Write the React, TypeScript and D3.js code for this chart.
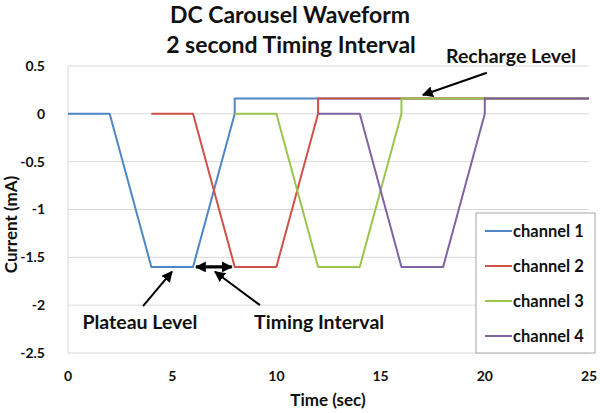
import { useEffect } from "react";
import * as d3 from "d3";

// waveform corner points (time in sec, current in mA)
const seriesNames = ["channel 1", "channel 2", "channel 3", "channel 4"];
const seriesColors = ["#4F86C6", "#D0504A", "#9BC44F", "#8064A2"];
const time1 = [0, 2, 4, 6, 8, 8, 25];
const time2 = [4, 6, 8, 10, 12, 12, 25];
const time3 = [8, 10, 12, 14, 16, 16, 25];
const time4 = [12, 14, 16, 18, 20, 20, 25];
const current1 = [0, 0, -1.6, -1.6, 0, 0.16, 0.16];
const current2 = [0, 0, -1.6, -1.6, 0, 0.16, 0.16];
const current3 = [0, 0, -1.6, -1.6, 0, 0.16, 0.16];
const current4 = [0, 0, -1.6, -1.6, 0, 0.16, 0.16];
const xTicks = [0, 5, 10, 15, 20, 25];
const yTicks = [0.5, 0, -0.5, -1, -1.5, -2, -2.5];

// annotations in data space
const labels = [
  { text: "Recharge Level", x: 21.26, y: 0.53 },
  { text: "Plateau Level", x: 3.45, y: -2.25 },
  { text: "Timing Interval", x: 12.05, y: -2.25 },
];
const pointers = [
  { x1: 20.1, y1: 0.43, x2: 17.03, y2: 0.197 },
  { x1: 3.6, y1: -2.01, x2: 4.99, y2: -1.65 },
  { x1: 9.21, y1: -2.0, x2: 7.05, y2: -1.65 },
];
const interval = { from: 6, to: 8, level: -1.6 };

const W = 600;
const H = 413;
const margin = { top: 66, right: 11, bottom: 60, left: 68 };
const font = "Lato, 'Open Sans', sans-serif";

export default function App() {
  useEffect(() => {
    document.body.style.margin = "0";
  }, []);

  const x = d3.scaleLinear().domain([0, 25]).range([margin.left, W - margin.right]);
  const y = d3.scaleLinear().domain([-2.5, 0.5]).range([H - margin.bottom, margin.top]);

  const series = [
    d3.zip(time1, current1),
    d3.zip(time2, current2),
    d3.zip(time3, current3),
    d3.zip(time4, current4),
  ];
  const line = d3
    .line<number[]>()
    .x((d) => x(d[0]))
    .y((d) => y(d[1]));

  const legendX = 476;
  const legendY = 213;

  return (
    <svg width={W} height={H} style={{ display: "block" }} fontFamily={font} fontWeight="bold">
      <defs>
        <marker id="head" viewBox="0 0 10 10" refX="9" refY="5" markerWidth="5.5" markerHeight="5.5" orient="auto-start-reverse" markerUnits="strokeWidth">
          <path d="M0,0 L10,5 L0,10 z" fill="#000" />
        </marker>
        <marker id="headBig" viewBox="0 0 10 10" refX="9" refY="5" markerWidth="3.4" markerHeight="3.4" orient="auto-start-reverse" markerUnits="strokeWidth">
          <path d="M0,0 L10,5 L0,10 z" fill="#000" />
        </marker>
      </defs>
      <rect width={W} height={H} fill="#fff" />

      {/* title */}
      <text x={W / 2 - 10} y={23} textAnchor="middle" fontSize={23} fill="#111">
        DC Carousel Waveform
      </text>
      <text x={W / 2 - 9} y={53} textAnchor="middle" fontSize={23} fill="#111">
        2 second Timing Interval
      </text>

      {/* grid */}
      {yTicks.map((t) => (
        <line key={t} x1={x(0)} x2={x(25)} y1={y(t)} y2={y(t)} stroke="#D9D9D9" strokeWidth={1} />
      ))}
      <line x1={x(0)} x2={x(0)} y1={y(0.5)} y2={y(-2.5)} stroke="#D9D9D9" strokeWidth={1} />

      {/* tick labels */}
      {yTicks.map((t) => (
        <text key={t} x={45} y={y(t)} dy="0.35em" textAnchor="end" fontSize={14} fill="#111">
          {t}
        </text>
      ))}
      {xTicks.map((t) => (
        <text key={t} x={x(t)} y={381} textAnchor="middle" fontSize={14} fill="#111">
          {t}
        </text>
      ))}

      {/* axis titles */}
      <text x={328} y={406} textAnchor="middle" fontSize={17} fill="#111">
        Time (sec)
      </text>
      <text transform={`translate(11,${(y(0.5) + y(-2.5)) / 2 + 15}) rotate(-90)`} textAnchor="middle" dy="0.35em" fontSize={17} fill="#111">
        Current (mA)
      </text>

      {/* waveforms */}
      {series.map((s, i) => (
        <path key={i} d={line(s) ?? ""} fill="none" stroke={seriesColors[i]} strokeWidth={2} strokeLinejoin="round" />
      ))}

      {/* timing interval double arrow */}
      <line
        x1={x(interval.from) + 3}
        x2={x(interval.to) - 3}
        y1={y(interval.level)}
        y2={y(interval.level)}
        stroke="#000"
        strokeWidth={3.2}
        markerStart="url(#headBig)"
        markerEnd="url(#headBig)"
      />

      {/* pointers */}
      {pointers.map((p, i) => (
        <line key={i} x1={x(p.x1)} y1={y(p.y1)} x2={x(p.x2)} y2={y(p.y2)} stroke="#000" strokeWidth={2} markerEnd="url(#head)" />
      ))}

      {/* annotation text */}
      {labels.map((l) => (
        <text key={l.text} x={x(l.x)} y={y(l.y)} textAnchor="middle" fontSize={19.5} fill="#111">
          {l.text}
        </text>
      ))}

      {/* legend */}
      <rect x={legendX} y={legendY} width={119} height={140} fill="#fff" stroke="#A6A6A6" strokeWidth={1} />
      {seriesNames.map((name, i) => (
        <g key={name} transform={`translate(${legendX},${legendY + 18 + i * 35})`}>
          <line x1={9} x2={36} y1={0} y2={0} stroke={seriesColors[i]} strokeWidth={2} />
          <text x={37} y={0} dy="0.35em" fontSize={16.5} fill="#111">
            {name}
          </text>
        </g>
      ))}
    </svg>
  );
}
